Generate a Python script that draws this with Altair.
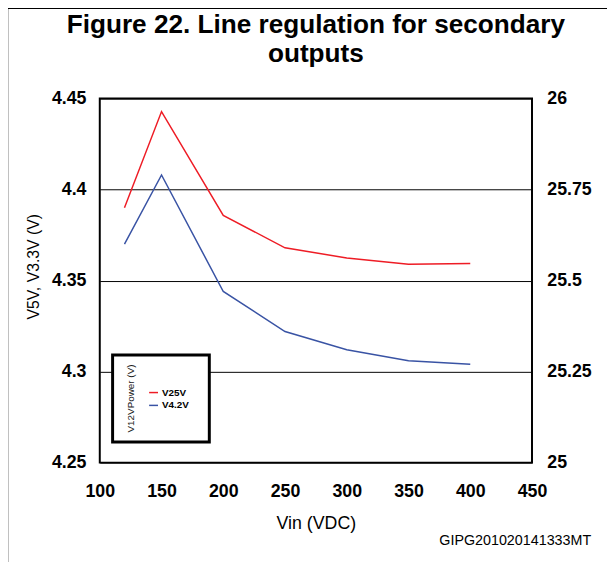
import altair as alt
import pandas as pd

# ---- data ----
vin = [120, 150, 200, 250, 300, 350, 400]
v25 = [25.700, 25.964, 25.679, 25.590, 25.562, 25.545, 25.547]   # right axis
v42 = [4.370, 4.408, 4.344, 4.322, 4.312, 4.306, 4.304]          # left axis
series = ["V25V", "V4.2V"]
colors = ["#ee1c25", "#3953a4"]
x_ticks = [100, 150, 200, 250, 300, 350, 400, 450]
left_ticks = [4.25, 4.3, 4.35, 4.4, 4.45]
right_ticks = [25, 25.25, 25.5, 25.75, 26]
title_lines = ["Figure 22. Line regulation for secondary", "outputs"]

FONT = "Liberation Sans"
W, H = 438, 369

df = pd.DataFrame({"vin": vin, "v25": v25, "v42": v42})
one = pd.DataFrame({"k": [0]})

xenc = alt.X(
    "vin:Q",
    scale=alt.Scale(domain=[100, 450], nice=False, zero=False),
    axis=alt.Axis(
        values=x_ticks, format="d", title="Vin (VDC)", grid=False, ticks=False,
        domain=False, labelFlush=False, labelFont=FONT, labelFontWeight="bold",
        labelFontSize=18, labelColor="black", labelPadding=20, titleFont=FONT,
        titleFontSize=18, titleFontWeight="normal", titleColor="black", titlePadding=15,
    ),
)

blue = alt.Chart(df).mark_line(color=colors[1], strokeWidth=1.5).encode(
    x=xenc,
    y=alt.Y(
        "v42:Q",
        scale=alt.Scale(domain=[4.25, 4.45], nice=False, zero=False),
        axis=alt.Axis(
            orient="left", values=left_ticks, format=".2~f", grid=True,
            gridColor="black", gridWidth=1, gridOpacity=1, ticks=False, domain=False,
            labelFlush=False, labelFont=FONT, labelFontWeight="bold", labelFontSize=18,
            labelColor="black", labelPadding=14, title="V5V, V3.3V (V)", titleFont=FONT,
            titleFontSize=16, titleFontWeight="normal", titleColor="black",
            titleX=-67, titleY=170, titleBaseline="middle",
        ),
    ),
)

red = alt.Chart(df).mark_line(color=colors[0], strokeWidth=1.5).encode(
    x=xenc,
    y=alt.Y(
        "v25:Q",
        scale=alt.Scale(domain=[25, 26], nice=False, zero=False),
        axis=alt.Axis(
            orient="right", values=right_ticks, format=".2~f", grid=False, ticks=False,
            domain=False, labelFlush=False, labelFont=FONT, labelFontWeight="bold",
            labelFontSize=18, labelColor="black", labelPadding=15, title=None,
        ),
    ),
)

# figure frame (top and left border)
frame_top = alt.Chart(one).mark_rule(color="black", strokeWidth=2.5).encode(
    x=alt.value(-94), x2=alt.value(530), y=alt.value(-92)
)
frame_left = alt.Chart(one).mark_rule(color="black", strokeWidth=2.5).encode(
    x=alt.value(-94), y=alt.value(-93), y2=alt.value(470)
)

# title as two text lines
title_layers = [
    alt.Chart(one).mark_text(
        font=FONT, fontSize=26.5, fontWeight="bold", color="black",
        align="center", baseline="alphabetic",
    ).encode(x=alt.value(W / 2), y=alt.value(-66 + 29 * i), text=alt.value(t))
    for i, t in enumerate(title_lines)
]

# legend box
leg_box = alt.Chart(one).mark_rect(fill="white", stroke="black", strokeWidth=3).encode(
    x=alt.value(13), x2=alt.value(111), y=alt.value(260), y2=alt.value(348)
)
leg_title = alt.Chart(one).mark_text(
    angle=270, font=FONT, fontSize=10, color="#222222", baseline="middle", align="center"
).encode(x=alt.value(32), y=alt.value(304), text=alt.value("V12VPower (V)"))

leg_layers = []
for i, (name, col) in enumerate(zip(series, colors)):
    yy = 298 + i * 13
    leg_layers.append(
        alt.Chart(one).mark_rule(color=col, strokeWidth=1.5).encode(
            x=alt.value(50), x2=alt.value(59), y=alt.value(yy)
        )
    )
    leg_layers.append(
        alt.Chart(one).mark_text(
            font=FONT, fontSize=10, fontWeight="bold", align="left", baseline="middle",
            color="black",
        ).encode(x=alt.value(63), y=alt.value(yy), text=alt.value(name))
    )

code_txt = alt.Chart(one).mark_text(
    font=FONT, fontSize=14.5, align="center", baseline="middle", color="black"
).encode(x=alt.value(421), y=alt.value(448), text=alt.value("GIPG201020141333MT"))

chart = (
    alt.layer(blue, red, frame_top, frame_left, *title_layers, leg_box, leg_title,
              *leg_layers, code_txt)
    .resolve_scale(y="independent")
    .properties(
        width=W,
        height=H,
        padding={"left": 93, "top": 88, "right": 76, "bottom": 97},
        autosize=alt.AutoSizeParams(type="none"),
        background="white",
    )
    .configure_view(stroke="black", strokeWidth=2)
)

chart.save("out.html", embed_options={"renderer": "svg", "actions": False})
